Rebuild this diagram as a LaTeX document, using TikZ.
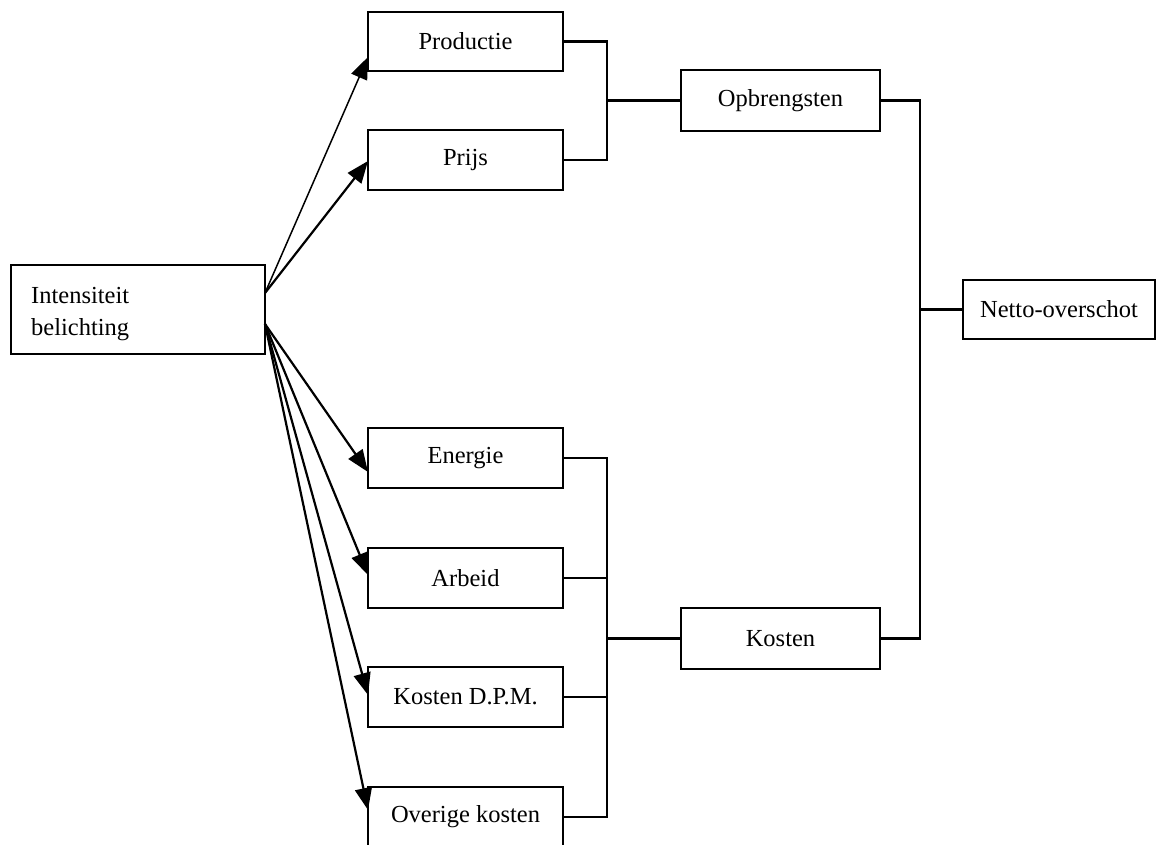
\documentclass[tikz,border=0pt]{standalone}
\usepackage{fontspec}
\setmainfont{Liberation Serif}
\usetikzlibrary{arrows.meta}
\begin{document}
\begin{tikzpicture}[x=1pt,y=-1pt,
  txt/.style={inner sep=0pt,font=\fontsize{24.5}{32}\selectfont},
  box/.style={txt,draw,line width=2.2pt,rectangle,minimum height=60pt,minimum width=195pt},
  wire/.style={line width=2.2pt},
  arr/.style={line width=2.2pt,-{Triangle[length=22pt,width=17pt]}},
  thinarr/.style={line width=1.5pt,-{Triangle[length=22pt,width=17pt]}}]
\useasboundingbox (0,0) rectangle (1156,845);
% nodes
\node[box,minimum width=254pt,minimum height=89pt] (int) at (138,309.5) {};
\node[txt,anchor=west,align=left] (inttext) at (31,314) {Intensiteit\\belichting};
\node[box,minimum height=59pt] (prod) at (465.5,41.5) {Productie};
\node[box] (prijs) at (465.5,160) {Prijs};
\node[box,minimum width=199pt,minimum height=61pt] (opb) at (780.5,100.5) {Opbrengsten};
\node[box,minimum width=192pt,minimum height=59pt] (netto) at (1059,309.5) {Netto-overschot};
\node[box] (energie) at (465.5,458) {Energie};
\node[box] (arbeid) at (465.5,578) {Arbeid};
\node[box] (dpm) at (465.5,697) {Kosten D.P.M.};
\node[box] (overig) at (465.5,817) {Overige kosten};
\node[box,minimum width=199pt,minimum height=61pt] (kosten) at (780.5,638.5) {Kosten};
% junctions
\coordinate (j1) at (607,100.5);
\coordinate (j2) at (607,638.5);
\coordinate (j3) at (920,309.5);
\coordinate (s1) at (265,293);
\coordinate (s2) at (265,324);
% tips
\coordinate (tprod) at (368,57);
\coordinate (tprijs) at (368,161);
\coordinate (tenergie) at (368,472);
\coordinate (tarbeid) at (368,575);
\coordinate (tdpm) at (368,695);
\coordinate (toverig) at (368,810);
% wires
\draw[wire] (prod.east) -| (j1) |- (prijs.east);
\draw[wire] (j1) -- (opb.west);
\draw[wire] (energie.east) -| (j2) |- (overig.east);
\draw[wire] (arbeid.east) -- (arbeid.east -| j2);
\draw[wire] (dpm.east) -- (dpm.east -| j2);
\draw[wire] (j2) -- (kosten.west);
\draw[wire] (opb.east) -| (j3) |- (kosten.east);
\draw[wire] (j3) -- (netto.west);
% arrows
\draw[thinarr] (s1) -- (tprod);
\draw[arr] (s1) -- (tprijs);
\draw[arr] (s2) -- (tenergie);
\draw[arr] (s2) -- (tarbeid);
\draw[arr] (s2) -- (tdpm);
\draw[arr] (s2) -- (toverig);
\end{tikzpicture}
\end{document}
